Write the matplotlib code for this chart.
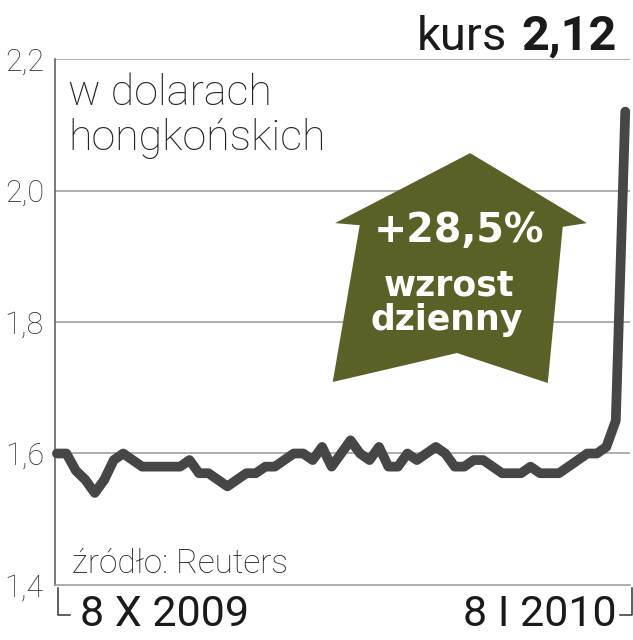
import matplotlib
matplotlib.use("Agg")
import matplotlib.pyplot as plt
from matplotlib.patches import Polygon

# kurs w dolarach hongkonskich, 8 X 2009 - 8 I 2010 (notowania dzienne)
values = [
    1.60, 1.60, 1.574, 1.56, 1.54, 1.56, 1.59, 1.60, 1.59, 1.58,
    1.58, 1.58, 1.58, 1.58, 1.59, 1.57, 1.57, 1.56, 1.55, 1.56,
    1.57, 1.57, 1.58, 1.58, 1.59, 1.60, 1.60, 1.59, 1.61, 1.58,
    1.60, 1.62, 1.60, 1.59, 1.61, 1.58, 1.58, 1.60, 1.59, 1.60,
    1.61, 1.60, 1.58, 1.58, 1.59, 1.59, 1.58, 1.57, 1.57, 1.57,
    1.58, 1.57, 1.57, 1.57, 1.58, 1.59, 1.60, 1.60, 1.61, 1.65,
    2.12,
]
yticks = [1.4, 1.6, 1.8, 2.0, 2.2]
ytick_labels = ["1,4", "1,6", "1,8", "2,0", "2,2"]
date_start = "8 X 2009"
date_end = "8 I 2010"
last_value = "2,12"
change = "+28,5%"

LINE = "#464646"
OLIVE = "#5b6126"
TEXT = "#222222"
FONT = "Roboto"

fig = plt.figure(figsize=(6.33, 6.4), dpi=100)
ax = fig.add_axes([55 / 633, 55 / 640, 575 / 633, 526 / 640])

x = list(range(len(values)))
ax.plot(x, values, color=LINE, lw=7, solid_capstyle="round",
        solid_joinstyle="round", clip_on=False, zorder=3)

ax.set_xlim(-0.2, 60.5)
ax.set_ylim(1.4, 2.2)
ax.set_yticks(yticks)
ax.set_yticklabels(ytick_labels, fontsize=22, color="#333333",
                   family=FONT, fontweight="light")
ax.set_xticks([])
ax.tick_params(axis="y", length=0, pad=8)
for yv in yticks[1:]:
    ax.axhline(yv, color="#999999", lw=1.1, zorder=1)

for s in ["top", "right"]:
    ax.spines[s].set_visible(False)
ax.spines["left"].set_color("#555555")
ax.spines["left"].set_linewidth(1.1)
ax.spines["bottom"].set_color("#999999")
ax.spines["bottom"].set_linewidth(1.1)

# arrow badge
arrow = Polygon([(0.487, 0.688), (0.722, 0.821), (0.925, 0.688), (0.883, 0.681),
                 (0.857, 0.384), (0.699, 0.441), (0.483, 0.386), (0.530, 0.684)],
                closed=True, transform=ax.transAxes, facecolor=OLIVE,
                edgecolor="none", zorder=2)
ax.add_patch(arrow)
ax.text(0.702, 0.652, change, transform=ax.transAxes, ha="center",
        va="baseline", color="white", fontsize=28.5, fontweight="bold",
        family="DejaVu Sans", zorder=4)
ax.text(0.685, 0.551, "wzrost", transform=ax.transAxes, ha="center",
        va="baseline", color="white", fontsize=25, fontweight="bold",
        family="DejaVu Sans", zorder=4)
ax.text(0.682, 0.485, "dzienny", transform=ax.transAxes, ha="center",
        va="baseline", color="white", fontsize=25, fontweight="bold",
        family="DejaVu Sans", zorder=4)

# labels inside the plot
ax.text(0.0226, 0.9125, "w dolarach", transform=ax.transAxes, va="baseline",
        fontsize=31, color=TEXT, family=FONT, fontweight="light")
ax.text(0.0226, 0.827, "hongkońskich", transform=ax.transAxes, va="baseline",
        fontsize=31, color=TEXT, family=FONT, fontweight="light")
ax.text(0.0296, 0.023, "źródło: Reuters", transform=ax.transAxes,
        va="baseline", fontsize=24, color=TEXT, family=FONT,
        fontweight="light")

# header
fig.text(617 / 633, 590 / 640, last_value, ha="right", va="baseline",
         fontsize=35, fontweight="bold", color="#1a1a1a", family=FONT)
fig.text(507 / 633, 590 / 640, "kurs", ha="right", va="baseline",
         fontsize=34, color="#1a1a1a", family=FONT)

# date range under the axis
fig.text(80 / 633, 14 / 640, date_start, ha="left", va="baseline",
         fontsize=31, color="#1a1a1a", family=FONT)
fig.text(617 / 633, 14 / 640, date_end, ha="right", va="baseline",
         fontsize=31, color="#1a1a1a", family=FONT)
ax.plot([0.005, 0.005, 0.026], [-0.006, -0.057, -0.057], transform=ax.transAxes,
        color="#333333", lw=1.1, clip_on=False)
ax.plot([0.983, 1.003, 1.003], [-0.057, -0.057, -0.006], transform=ax.transAxes,
        color="#333333", lw=1.1, clip_on=False)

fig.savefig("out.png", dpi=100)
